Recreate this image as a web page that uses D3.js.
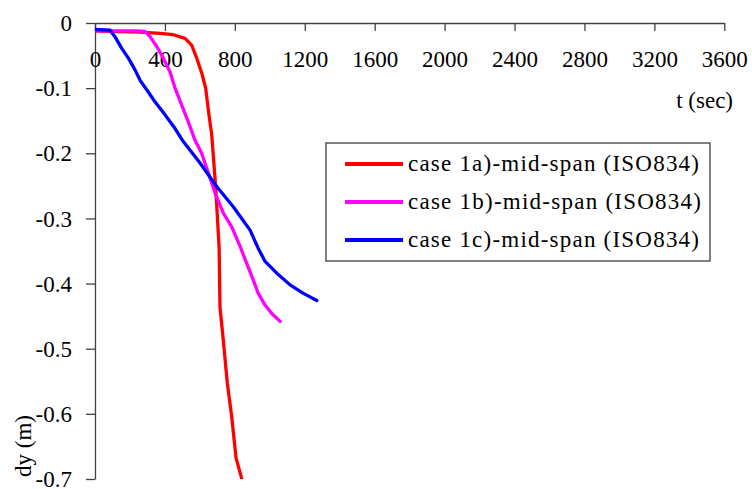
<!DOCTYPE html>
<html><head><meta charset="utf-8">
<script src="https://cdn.jsdelivr.net/npm/d3@7"></script>
<style>
html,body{margin:0;padding:0;background:#fff;}
</style></head>
<body><svg id="c" width="752" height="489"></svg>
<script>
const xTicks = [0,400,800,1200,1600,2000,2400,2800,3200,3600];
const yTicks = [0,-0.1,-0.2,-0.3,-0.4,-0.5,-0.6,-0.7];
const seriesNames = ["case 1a)-mid-span (ISO834)","case 1b)-mid-span (ISO834)","case 1c)-mid-span (ISO834)"];
const seriesColors = ["#ff0000","#ff00ff","#0000ff"];
const case1a = [[0,-0.012],[86,-0.013],[258,-0.014],[372,-0.016],[448,-0.018],[515,-0.0235],[553,-0.034],[582,-0.054],[611,-0.077],[633,-0.100],[652,-0.141],[668,-0.172],[680,-0.215],[690,-0.251],[700,-0.297],[710,-0.345],[715,-0.436],[734,-0.487],[757,-0.553],[782,-0.604],[807,-0.668],[839,-0.699],[850,-0.715]];
const case1b = [[0,-0.012],[100,-0.012],[239,-0.012],[286,-0.013],[315,-0.021],[353,-0.036],[391,-0.054],[429,-0.075],[458,-0.100],[496,-0.126],[534,-0.152],[572,-0.180],[610,-0.200],[648,-0.230],[687,-0.261],[734,-0.292],[782,-0.313],[830,-0.343],[868,-0.369],[906,-0.395],[934,-0.415],[973,-0.433],[1011,-0.446],[1059,-0.458]];
const case1c = [[0,-0.010],[86,-0.011],[114,-0.021],[153,-0.039],[191,-0.054],[229,-0.072],[258,-0.088],[305,-0.106],[343,-0.121],[401,-0.141],[458,-0.162],[505,-0.182],[601,-0.215],[696,-0.251],[791,-0.282],[887,-0.318],[934,-0.346],[973,-0.366],[1040,-0.384],[1116,-0.402],[1192,-0.415],[1269,-0.426]];
const seriesData = [case1a, case1b, case1c];

const FONT = '"Liberation Serif"';
const svg = d3.select("#c");
const x = d3.scaleLinear().domain([0,3600]).range([95,724.3]);
const y = d3.scaleLinear().domain([0,-0.7]).range([23,479]);
const axisColor = "#404040";

svg.append("clipPath").attr("id","plot").append("rect")
  .attr("x",95).attr("y",23).attr("width",640).attr("height",456);

// y axis
const ya = svg.append("g").attr("transform","translate(95,0)")
  .call(d3.axisLeft(y).tickValues(yTicks).tickSize(9).tickSizeOuter(0)
    .tickFormat(d => d===0 ? "0" : d3.format(".1f")(d).replace("−","-")));
ya.attr("font-family",null).attr("font-size",null);
ya.selectAll("path,line").attr("stroke",axisColor).attr("stroke-width",1.3);
ya.selectAll("text").attr("x",-23).attr("dy","0.33em")
  .style("font-family",FONT).style("font-size","23px").attr("fill","#000");

// x axis
const xa = svg.append("g").attr("transform","translate(0,23)")
  .call(d3.axisBottom(x).tickValues(xTicks).tickSize(8).tickSizeOuter(0).tickFormat(d3.format("d")));
xa.attr("font-family",null).attr("font-size",null);
xa.selectAll("path,line").attr("stroke",axisColor).attr("stroke-width",1.3);
xa.selectAll("text").attr("y",44).attr("dy",0)
  .style("font-family",FONT).style("font-size","23px").attr("fill","#000");

// lines
const line = d3.line().x(d=>x(d[0])).y(d=>y(d[1]));
const lg = svg.append("g").attr("clip-path","url(#plot)");
[0,1,2].forEach(i=>{
  lg.append("path").datum(seriesData[i]).attr("d",line)
    .attr("fill","none").attr("stroke",seriesColors[i]).attr("stroke-width",3.3)
    .attr("stroke-linejoin","round").attr("stroke-linecap","round");
});

// axis titles
svg.append("text").attr("x",733).attr("y",108).attr("text-anchor","end")
  .style("font-family",FONT).style("font-size","23px").text("t (sec)");
svg.append("text").attr("transform","translate(31,446) rotate(-90)").attr("text-anchor","middle")
  .style("font-family",FONT).style("font-size","23px").text("dy (m)");

// legend
const leg = svg.append("g");
leg.append("rect").attr("x",326).attr("y",143).attr("width",384).attr("height",118)
  .attr("fill","#fff").attr("stroke",axisColor).attr("stroke-width",1.3);
const rowY = [164,202,240];
seriesNames.forEach((n,i)=>{
  leg.append("line").attr("x1",345).attr("x2",403).attr("y1",rowY[i]).attr("y2",rowY[i])
    .attr("stroke",seriesColors[i]).attr("stroke-width",3.8);
  leg.append("text").attr("x",408).attr("y",rowY[i]+7)
    .attr("textLength",i===0?291:(i===1?293:291)).attr("lengthAdjust","spacing")
    .style("font-family",FONT).style("font-size","23px").text(n);
});
</script></body></html>
